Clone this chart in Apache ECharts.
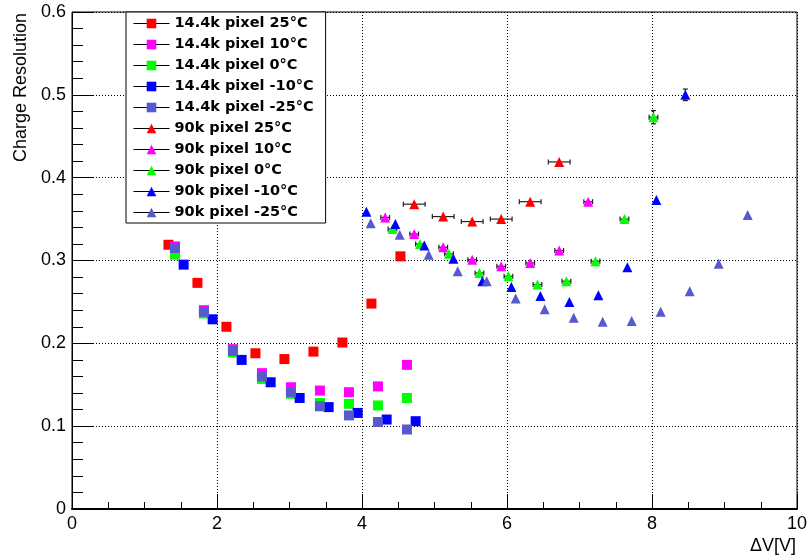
<!DOCTYPE html>
<html>
<head>
<meta charset="utf-8">
<script src="https://cdn.jsdelivr.net/npm/echarts@6/dist/echarts.min.js"></script>
<style>
  html, body { margin: 0; padding: 0; background: #fff; }
  #main { width: 811px; height: 560px; }
</style>
</head>
<body>
<div id="main"></div>
<script>
// 14.4k pixel (squares)
var sq25X = [1.33, 1.73, 2.13, 2.53, 2.93, 3.33, 3.73, 4.13, 4.53];
var sq25Y = [0.319, 0.273, 0.220, 0.188, 0.181, 0.190, 0.201, 0.248, 0.305];
var sq10X = [1.42, 1.82, 2.22, 2.62, 3.02, 3.42, 3.82, 4.22, 4.62];
var sq10Y = [0.317, 0.240, 0.193, 0.164, 0.147, 0.143, 0.141, 0.148, 0.174];
var sq0X = [1.42, 1.82, 2.22, 2.62, 3.02, 3.42, 3.82, 4.22, 4.62];
var sq0Y = [0.307, 0.236, 0.189, 0.157, 0.139, 0.128, 0.127, 0.125, 0.134];
var sqM10X = [1.54, 1.94, 2.34, 2.74, 3.14, 3.54, 3.94, 4.34, 4.74];
var sqM10Y = [0.295, 0.229, 0.180, 0.153, 0.134, 0.123, 0.116, 0.108, 0.106];
var sqM25X = [1.42, 1.82, 2.22, 2.62, 3.02, 3.42, 3.82, 4.22, 4.62];
var sqM25Y = [0.315, 0.238, 0.191, 0.160, 0.141, 0.124, 0.113, 0.105, 0.096];

// 90k pixel (triangles)
var tr25X = [4.72, 5.12, 5.52, 5.92, 6.32, 6.72];
var tr25Y = [0.368, 0.353, 0.347, 0.350, 0.371, 0.419];
var tr25XErr = [0.15, 0.15, 0.15, 0.15, 0.15, 0.15];
var tr10X = [4.32, 4.72, 5.12, 5.52, 5.92, 6.32, 6.72, 7.12];
var tr10Y = [0.352, 0.332, 0.316, 0.301, 0.293, 0.297, 0.312, 0.371];
var tr10XErr = [0.06, 0.06, 0.06, 0.06, 0.06, 0.06, 0.06, 0.06];
var tr0X = [4.42, 4.80, 5.20, 5.62, 6.02, 6.42, 6.82, 7.22, 7.62, 8.02];
var tr0Y = [0.338, 0.320, 0.308, 0.285, 0.281, 0.271, 0.275, 0.299, 0.350, 0.473];
var tr0XErr = [0.06, 0.06, 0.06, 0.06, 0.06, 0.06, 0.06, 0.06, 0.06, 0.06];
var tr0YErr = [0, 0, 0, 0, 0, 0, 0, 0, 0, 0.008];
var trM10X = [4.06, 4.46, 4.86, 5.26, 5.66, 6.06, 6.46, 6.86, 7.26, 7.66, 8.06, 8.46];
var trM10Y = [0.359, 0.344, 0.318, 0.302, 0.275, 0.268, 0.257, 0.250, 0.258, 0.292, 0.373, 0.500];
var trM10YErr = [0, 0, 0, 0, 0, 0, 0, 0, 0, 0, 0, 0.007];
var trM25X = [4.12, 4.52, 4.92, 5.32, 5.72, 6.12, 6.52, 6.92, 7.32, 7.72, 8.12, 8.52, 8.92, 9.32];
var trM25Y = [0.345, 0.331, 0.307, 0.287, 0.275, 0.254, 0.241, 0.231, 0.226, 0.227, 0.238, 0.263, 0.296, 0.355];

var xTicks = [0, 2, 4, 6, 8, 10];
var yTicks = [0, 0.1, 0.2, 0.3, 0.4, 0.5, 0.6];

function pairs(xs, ys) {
    return xs.map(function (x, i) { return [x, ys[i]]; });
}

function errRows(xs, ys, ex, ey) {
    return xs.map(function (x, i) {
        return [x, ys[i], ex ? ex[i] : 0, ey ? ey[i] : 0];
    });
}

var errData = [].concat(
    errRows(tr25X, tr25Y, tr25XErr, null),
    errRows(tr10X, tr10Y, tr10XErr, null),
    errRows(tr0X, tr0Y, tr0XErr, tr0YErr),
    errRows(trM10X, trM10Y, null, trM10YErr)
);

// error bars with small end caps, drawn under the markers
function renderErr(params, api) {
    var x = api.value(0), y = api.value(1), ex = api.value(2), ey = api.value(3);
    var st = { stroke: '#222', lineWidth: 1.2 };
    var kids = [];
    var cap = 2.5;
    if (ex > 0) {
        var l = api.coord([x - ex, y]), r = api.coord([x + ex, y]);
        kids.push({ type: 'line', shape: { x1: l[0], y1: l[1], x2: r[0], y2: r[1] }, style: st });
        kids.push({ type: 'line', shape: { x1: l[0], y1: l[1] - cap, x2: l[0], y2: l[1] + cap }, style: st });
        kids.push({ type: 'line', shape: { x1: r[0], y1: r[1] - cap, x2: r[0], y2: r[1] + cap }, style: st });
    }
    if (ey > 0) {
        var t = api.coord([x, y + ey]), b = api.coord([x, y - ey]);
        kids.push({ type: 'line', shape: { x1: t[0], y1: t[1], x2: b[0], y2: b[1] }, style: st });
        kids.push({ type: 'line', shape: { x1: t[0] - cap, y1: t[1], x2: t[0] + cap, y2: t[1] }, style: st });
        kids.push({ type: 'line', shape: { x1: b[0] - cap, y1: b[1], x2: b[0] + cap, y2: b[1] }, style: st });
    }
    return { type: 'group', children: kids };
}

function pts(name, xs, ys, color, symbol) {
    return {
        name: name,
        type: 'line',
        data: pairs(xs, ys),
        symbol: symbol,
        symbolSize: 10,
        showSymbol: true,
        showAllSymbol: true,
        itemStyle: { color: color, opacity: 1 },
        lineStyle: { width: 0, opacity: 0 },
        emphasis: { disabled: true },
        z: 3
    };
}

var cRed = '#ff0000', cMag = '#ff00ff', cGrn = '#00ff00', cBlu = '#0000ff', cSlt = '#5959cf';

var series = [
    pts('14.4k pixel 25°C', sq25X, sq25Y, cRed, 'rect'),
    pts('14.4k pixel 10°C', sq10X, sq10Y, cMag, 'rect'),
    pts('14.4k pixel 0°C', sq0X, sq0Y, cGrn, 'rect'),
    pts('14.4k pixel -10°C', sqM10X, sqM10Y, cBlu, 'rect'),
    pts('14.4k pixel -25°C', sqM25X, sqM25Y, cSlt, 'rect'),
    pts('90k pixel 25°C', tr25X, tr25Y, cRed, 'triangle'),
    pts('90k pixel 10°C', tr10X, tr10Y, cMag, 'triangle'),
    pts('90k pixel 0°C', tr0X, tr0Y, cGrn, 'triangle'),
    pts('90k pixel -10°C', trM10X, trM10Y, cBlu, 'triangle'),
    pts('90k pixel -25°C', trM25X, trM25Y, cSlt, 'triangle'),
    {
        name: 'err',
        type: 'custom',
        data: errData,
        renderItem: renderErr,
        z: 1,
        silent: true
    }
];

var chart = echarts.init(document.getElementById('main'), null, { renderer: 'canvas' });

var axisFont = { color: '#000', fontFamily: 'Liberation Sans', fontSize: 18 };

var option = {
    animation: false,
    backgroundColor: '#fff',
    grid: {
        left: 72, right: 14, top: 12, bottom: 51,
        show: true, borderColor: '#000', borderWidth: 1
    },
    legend: {
        data: series.slice(0, 10).map(function (s) { return s.name; }),
        orient: 'vertical',
        left: 126, top: 12,
        padding: [4, 12, 3, 7],
        itemWidth: 36, itemHeight: 12, itemGap: 6, itemTextGap: 9,
        backgroundColor: '#fff',
        borderColor: '#000', borderWidth: 1, borderRadius: 0,
        selectedMode: false,
        lineStyle: { color: '#000', width: 1, opacity: 1 },
        textStyle: { color: '#000', fontFamily: 'DejaVu Sans', fontWeight: 'bold', fontSize: 14.5, lineHeight: 14 }
    },
    xAxis: {
        type: 'value',
        min: xTicks[0], max: xTicks[xTicks.length - 1], interval: 2,
        name: 'ΔV[V]',
        nameLocation: 'end',
        nameGap: -1,
        nameTextStyle: {
            color: '#000', fontFamily: 'Liberation Sans', fontSize: 18,
            align: 'right', verticalAlign: 'top', padding: [28, 0, 0, 0]
        },
        axisLine: { lineStyle: { color: '#000', width: 2 } },
        axisTick: { inside: true, length: 15, lineStyle: { color: '#000' } },
        minorTick: { show: true, splitNumber: 4, length: 7, lineStyle: { color: '#000' } },
        axisLabel: Object.assign({ margin: 6 }, axisFont),
        splitLine: { show: true, lineStyle: { color: '#000', width: 1, type: [1, 2] } }
    },
    yAxis: {
        type: 'value',
        min: yTicks[0], max: yTicks[yTicks.length - 1], interval: 0.1,
        name: 'Charge Resolution',
        nameLocation: 'end',
        nameRotate: 90,
        nameGap: -1,
        nameTextStyle: {
            color: '#000', fontFamily: 'Liberation Sans', fontSize: 18,
            align: 'right', verticalAlign: 'bottom', padding: [0, 0, 42, 0]
        },
        axisLine: { show: true, lineStyle: { color: '#000', width: 1 } },
        axisTick: { show: true, inside: true, length: 22, lineStyle: { color: '#000' } },
        minorTick: { show: true, splitNumber: 5, length: 11, lineStyle: { color: '#000' } },
        axisLabel: Object.assign({ margin: 6 }, axisFont),
        splitLine: { show: true, lineStyle: { color: '#000', width: 1, type: [1, 2] } }
    },
    series: series
};

chart.setOption(option);
</script>
</body>
</html>
